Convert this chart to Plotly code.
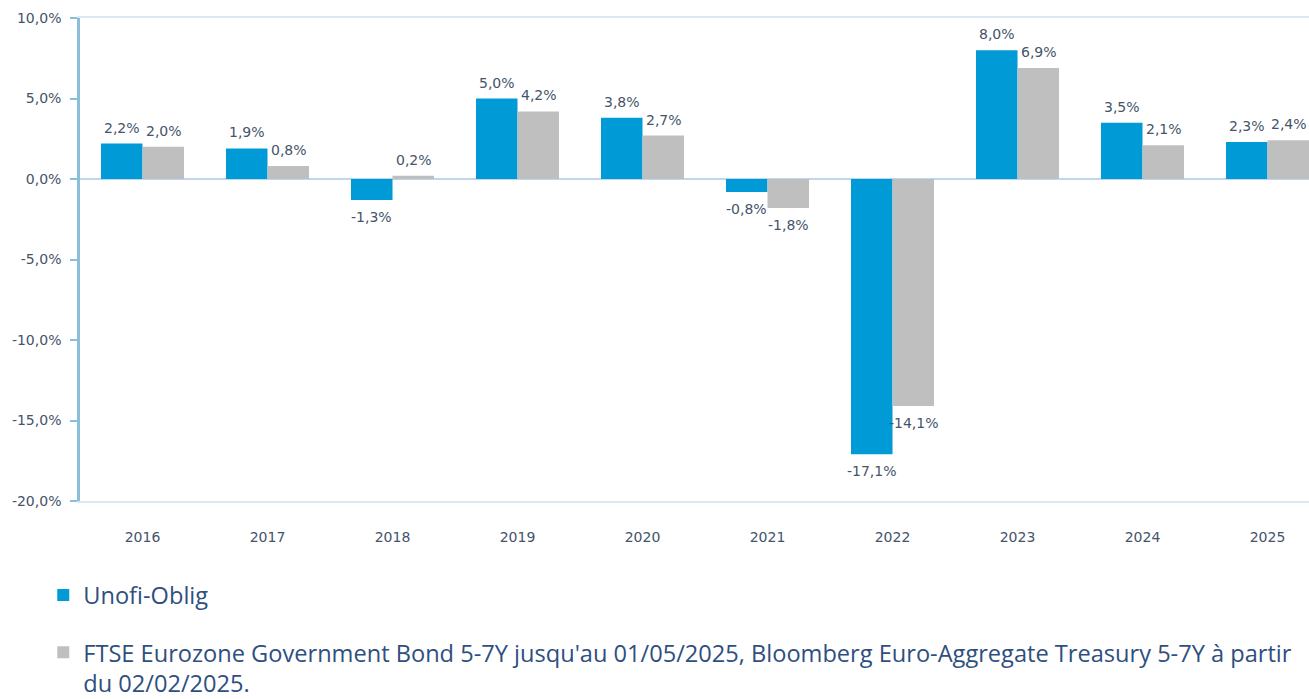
import plotly.graph_objects as go

years = ["2016", "2017", "2018", "2019", "2020", "2021", "2022", "2023", "2024", "2025"]
unofi = [2.2, 1.9, -1.3, 5.0, 3.8, -0.8, -17.1, 8.0, 3.5, 2.3]
bench = [2.0, 0.8, 0.2, 4.2, 2.7, -1.8, -14.1, 6.9, 2.1, 2.4]
name_unofi = "Unofi-Oblig"
name_bench = ("FTSE Eurozone Government Bond 5-7Y jusqu'au 01/05/2025, Bloomberg Euro-Aggregate "
              "Treasury 5-7Y à partir<br>du 02/02/2025.")
ytick_vals = [-20, -15, -10, -5, 0, 5, 10]

BLUE = "#009AD6"
GREY = "#BFBFBF"
TXT = "#44546A"
LEG = "#2F4F7F"


def fmt(v):
    return f"{v:.1f}%".replace(".", ",")


xpos = list(range(len(years)))

fig = go.Figure()
fig.add_trace(go.Bar(x=xpos, y=unofi, name=name_unofi,
                     marker=dict(color=BLUE, line=dict(width=0)), legend="legend"))
fig.add_trace(go.Bar(x=xpos, y=bench, name=name_bench,
                     marker=dict(color=GREY, line=dict(width=0)), legend="legend2"))

# data labels
for series, dx in ((unofi, -21), (bench, 21)):
    for i, v in zip(xpos, series):
        fig.add_annotation(x=i, y=v, text=fmt(v), showarrow=False,
                           xshift=dx, yshift=16 if v >= 0 else -17,
                           xanchor="center", yanchor="middle",
                           font=dict(family="DejaVu Sans", size=14, color=TXT))

fig.update_layout(
    width=1309, height=699,
    margin=dict(l=80, r=0, t=18, b=198, autoexpand=False),
    paper_bgcolor="white", plot_bgcolor="white",
    barmode="group", bargap=0.336, bargroupgap=0,
    showlegend=True,
    legend=dict(x=-0.0299, y=-0.195, xanchor="left", yanchor="middle",
                font=dict(family="Open Sans", size=23.6, color=LEG), bgcolor="rgba(0,0,0,0)",
                itemwidth=30),
    legend2=dict(x=-0.0299, y=-0.3458, xanchor="left", yanchor="middle", valign="top",
                 font=dict(family="Open Sans", size=23.6, color=LEG), bgcolor="rgba(0,0,0,0)",
                 itemwidth=30),
    xaxis=dict(
        range=[-0.5, 9.332], tickmode="array", tickvals=xpos, ticktext=years,
        showgrid=False, zeroline=False, showline=True, mirror=True,
        linecolor="#D9E8F2", linewidth=1.5, ticks="",
        ticklabelstandoff=22,
        tickfont=dict(family="DejaVu Sans", size=14, color=TXT),
    ),
    yaxis=dict(
        range=[-20, 10], tickmode="array", tickvals=ytick_vals,
        ticktext=[fmt(v) for v in ytick_vals],
        showgrid=False, zeroline=True, zerolinecolor="#BDD7EE", zerolinewidth=2,
        showline=True, linecolor="#8CBEDC", linewidth=2.5,
        ticks="outside", ticklen=7, tickcolor="#8CBEDC", tickwidth=1.5,
        ticklabelstandoff=6,
        tickfont=dict(family="DejaVu Sans", size=14, color=TXT),
    ),
)

fig.write_html("out.html")
